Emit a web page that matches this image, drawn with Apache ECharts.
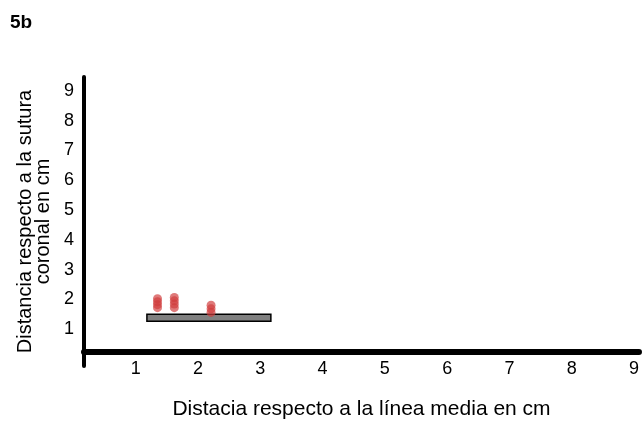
<!DOCTYPE html>
<html><head><meta charset="utf-8">
<script src="https://cdn.jsdelivr.net/npm/echarts@6/dist/echarts.min.js"></script>
<style>html,body{margin:0;padding:0;background:#fff}#c{width:642px;height:425px}</style>
</head><body><div id="c"></div>
<script>
const xTicks = [1,2,3,4,5,6,7,8,9];
const yTicks = [1,2,3,4,5,6,7,8,9];
// red point clusters [x, y]
const pointsX = [1.35,1.35,1.35,1.35, 1.62,1.62,1.62,1.62, 2.21,2.21,2.21];
const pointsY = [2.02,1.92,1.82,1.72, 2.06,1.95,1.84,1.72, 1.80,1.68,1.56];
// gray bar: [xStart, xEnd, yLow, yHigh]
const barRange = [1.18, 3.17, 1.26, 1.50];

const chart = echarts.init(document.getElementById('c'), null, {renderer:'canvas'});
const font = 'Arial, "Liberation Sans", sans-serif';
chart.setOption({
  animation:false,
  title:{text:'5b', left:10, top:13, padding:0, textStyle:{fontFamily:font, fontSize:19, fontWeight:'bold', color:'#000'}},
  grid:{left:84, right:0, top:77, bottom:58},
  xAxis:{type:'value', min:0.17, max:9.08, offset:-14,
    name:'Distacia respecto a la línea media en cm', nameLocation:'middle', nameGap:47,
    nameTextStyle:{fontFamily:font, fontSize:21, color:'#000'},
    axisLine:{show:true, lineStyle:{color:'#000', width:6}},
    axisTick:{show:false},
    splitLine:{show:false},
    axisLabel:{customValues:xTicks, fontFamily:font, fontSize:18, color:'#000', margin:8}},
  yAxis:{type:'value', min:-0.24, max:9.47,
    name:'Distancia respecto a la sutura\ncoronal en cm', nameLocation:'middle', nameGap:32,
    nameTextStyle:{fontFamily:font, fontSize:20, color:'#000', lineHeight:18},
    axisLine:{show:true, lineStyle:{color:'#000', width:4}},
    axisTick:{show:false},
    splitLine:{show:false},
    axisLabel:{customValues:yTicks, fontFamily:font, fontSize:18, color:'#000', margin:10}},
  series:[
    {type:'custom', renderItem:function(params, api){
        const p0 = api.coord([api.value(0), api.value(3)]);
        const p1 = api.coord([api.value(1), api.value(2)]);
        return {type:'rect', shape:{x:p0[0], y:p0[1], width:p1[0]-p0[0], height:p1[1]-p0[1]},
          style:{fill:'#808080', stroke:'#000', lineWidth:1.5}};
      }, data:[barRange], z:1},
    {type:'scatter', symbol:'circle', symbolSize:9, z:3,
      itemStyle:{color:'rgba(208,60,60,0.85)'},
      data: pointsX.map((x,i)=>[x, pointsY[i]])}
  ]
});
</script></body></html>
